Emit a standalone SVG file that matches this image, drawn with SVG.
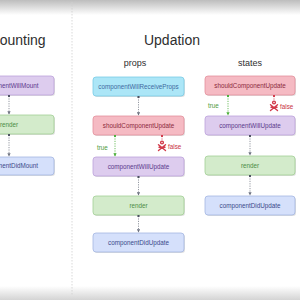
<svg xmlns="http://www.w3.org/2000/svg" width="300" height="300" viewBox="0 0 300 300">
<defs>
<linearGradient id="topg" x1="0" y1="0" x2="0" y2="1"><stop offset="0" stop-color="#bdbdbd"/><stop offset="1" stop-color="#ffffff"/></linearGradient>
<linearGradient id="botg" x1="0" y1="0" x2="0" y2="1"><stop offset="0" stop-color="#ffffff"/><stop offset="1" stop-color="#d4d4d4"/></linearGradient>
<marker id="ag" viewBox="0 0 6 6" refX="5" refY="3" markerWidth="4" markerHeight="4" orient="auto"><path d="M0,0 L6,3 L0,6 z" fill="#6d7280"/></marker>
<marker id="agr" viewBox="0 0 6 6" refX="5" refY="3" markerWidth="4" markerHeight="4" orient="auto"><path d="M0,0 L6,3 L0,6 z" fill="#4caf3a"/></marker>
<marker id="dg" viewBox="0 0 4 4" refX="2" refY="2" markerWidth="3" markerHeight="3"><circle cx="2" cy="2" r="2" fill="#4b5060"/></marker>
<marker id="dgr" viewBox="0 0 4 4" refX="2" refY="2" markerWidth="3" markerHeight="3"><circle cx="2" cy="2" r="2" fill="#4caf3a"/></marker>
<marker id="dr" viewBox="0 0 4 4" refX="2" refY="2" markerWidth="3" markerHeight="3"><circle cx="2" cy="2" r="2" fill="#d23a4a"/></marker>
</defs>
<style>
text{font-family:"Liberation Sans",Arial,sans-serif}
.lbl{font-size:6.3px;text-anchor:middle}
.title{font-size:14px;fill:#2e2e2e}
.sub{font-size:9px;fill:#2e2e2e;text-anchor:middle}
.sh{fill:#000;opacity:0.12}
.b{stroke-width:0.8}
.cwrp{fill:#ace6f7;stroke:#79cbe6}.cwrp-t{fill:#3e6aa0}
.scu{fill:#f5bac3;stroke:#e3909c}.scu-t{fill:#8b2a3c}
.cwu{fill:#ddccee;stroke:#bca2da}.cwu-t{fill:#5b3a8c}
.ren{fill:#d3ebcb;stroke:#a2cf96}.ren-t{fill:#4b8c45}
.cdu{fill:#d5e0fb;stroke:#a3b6e2}.cdu-t{fill:#3a4a8a}
.c{fill:none;stroke:#7a7f8a;stroke-width:0.8;stroke-dasharray:1.2,1.2}
.cg{fill:none;stroke:#4caf3a;stroke-width:0.8;stroke-dasharray:1.2,1.2}
.cr{fill:none;stroke:#d23a4a;stroke-width:0.8;stroke-dasharray:1.2,1.2}
.tr{font-size:6.3px;fill:#4c9a3a}
.fa{font-size:6.3px;fill:#c8323f}
.ic{fill:none;stroke:#d23a4a;stroke-width:1.4;stroke-linecap:round}
</style>
<rect width="300" height="300" fill="#ffffff"/>
<rect x="0" y="0" width="300" height="15" fill="url(#topg)"/>
<rect x="0" y="286" width="300" height="14" fill="url(#botg)"/>
<line x1="72" y1="2" x2="72" y2="296" stroke="#cfcfcf" stroke-width="0.8" stroke-dasharray="1.5,1.5"/>

<text class="title" x="-12" y="45">Mounting</text>
<text class="title" x="172" y="45" text-anchor="middle">Updation</text>
<text class="sub" x="135" y="66">props</text>
<text class="sub" x="250" y="66">states</text>

<g id="m-cwm"><rect class="sh" x="-35" y="77" width="90" height="19" rx="3"/><rect class="b cwu" x="-36" y="76" width="90" height="19" rx="3"/><text class="lbl cwu-t" x="9" y="87.8">componentWillMount</text></g>
<g id="m-render"><rect class="sh" x="-35" y="116" width="90" height="19" rx="3"/><rect class="b ren" x="-36" y="115" width="90" height="19" rx="3"/><text class="lbl ren-t" x="9" y="126.8">render</text></g>
<g id="m-cdm"><rect class="sh" x="-35" y="158" width="90" height="18" rx="3"/><rect class="b cdu" x="-36" y="157" width="90" height="18" rx="3"/><text class="lbl cdu-t" x="9" y="168.3">componentDidMount</text></g>

<g id="p-cwrp"><rect class="sh" x="94" y="78" width="91" height="19" rx="3"/><rect class="b cwrp" x="93" y="77" width="91" height="19" rx="3"/><text class="lbl cwrp-t" x="138.5" y="88.8">componentWillReceiveProps</text></g>
<g id="p-scu"><rect class="sh" x="94" y="117" width="91" height="19" rx="3"/><rect class="b scu" x="93" y="116" width="91" height="19" rx="3"/><text class="lbl scu-t" x="138.5" y="127.8">shouldComponentUpdate</text></g>
<g id="p-cwu"><rect class="sh" x="94" y="158" width="91" height="19" rx="3"/><rect class="b cwu" x="93" y="157" width="91" height="19" rx="3"/><text class="lbl cwu-t" x="138.5" y="168.8">componentWillUpdate</text></g>
<g id="p-render"><rect class="sh" x="94" y="197" width="91" height="19" rx="3"/><rect class="b ren" x="93" y="196" width="91" height="19" rx="3"/><text class="lbl ren-t" x="138.5" y="207.8">render</text></g>
<g id="p-cdu"><rect class="sh" x="94" y="234" width="91" height="19" rx="3"/><rect class="b cdu" x="93" y="233" width="91" height="19" rx="3"/><text class="lbl cdu-t" x="138.5" y="244.8">componentDidUpdate</text></g>

<g id="s-scu"><rect class="sh" x="206" y="77" width="90" height="19" rx="3"/><rect class="b scu" x="205" y="76" width="90" height="19" rx="3"/><text class="lbl scu-t" x="250" y="87.8">shouldComponentUpdate</text></g>
<g id="s-cwu"><rect class="sh" x="206" y="117" width="90" height="19" rx="3"/><rect class="b cwu" x="205" y="116" width="90" height="19" rx="3"/><text class="lbl cwu-t" x="250" y="127.8">componentWillUpdate</text></g>
<g id="s-render"><rect class="sh" x="206" y="157" width="90" height="19" rx="3"/><rect class="b ren" x="205" y="156" width="90" height="19" rx="3"/><text class="lbl ren-t" x="250" y="167.8">render</text></g>
<g id="s-cdu"><rect class="sh" x="206" y="197" width="90" height="19" rx="3"/><rect class="b cdu" x="205" y="196" width="90" height="19" rx="3"/><text class="lbl cdu-t" x="250" y="207.8">componentDidUpdate</text></g>

<g id="connectors">
<path class="c" d="M9,96 V114" marker-start="url(#dg)" marker-end="url(#ag)"/>
<path class="c" d="M9,135 V156" marker-start="url(#dg)" marker-end="url(#ag)"/>
<path class="c" d="M138.5,97 V115" marker-start="url(#dg)" marker-end="url(#ag)"/>
<path class="c" d="M138.5,177 V195" marker-start="url(#dg)" marker-end="url(#ag)"/>
<path class="c" d="M138.5,216 V232" marker-start="url(#dg)" marker-end="url(#ag)"/>
<path class="cg" d="M115,136 V156" marker-start="url(#dgr)" marker-end="url(#agr)"/>
<path class="cr" d="M162,136 V140" marker-start="url(#dr)"/>
<path class="c" d="M250,136 V155" marker-start="url(#dg)" marker-end="url(#ag)"/>
<path class="c" d="M250,176 V195" marker-start="url(#dg)" marker-end="url(#ag)"/>
<path class="cg" d="M228,96 V115" marker-start="url(#dgr)" marker-end="url(#agr)"/>
<path class="cr" d="M274,96 V100" marker-start="url(#dr)"/>
<text class="tr" x="97" y="150">true</text>
<g class="ic" transform="translate(162,146)"><circle cx="0" cy="-3.5" r="1.4"/><path d="M-3.5,-1.2 L3.5,4.5 M3.5,-1.2 L-3.5,4.5 M-3,1.2 H3"/></g>
<text class="fa" x="168" y="149">false</text>
<text class="tr" x="208" y="108">true</text>
<g class="ic" transform="translate(274,106)"><circle cx="0" cy="-3.5" r="1.4"/><path d="M-3.5,-1.2 L3.5,4.5 M3.5,-1.2 L-3.5,4.5 M-3,1.2 H3"/></g>
<text class="fa" x="280" y="109">false</text>
</g>
</svg>
